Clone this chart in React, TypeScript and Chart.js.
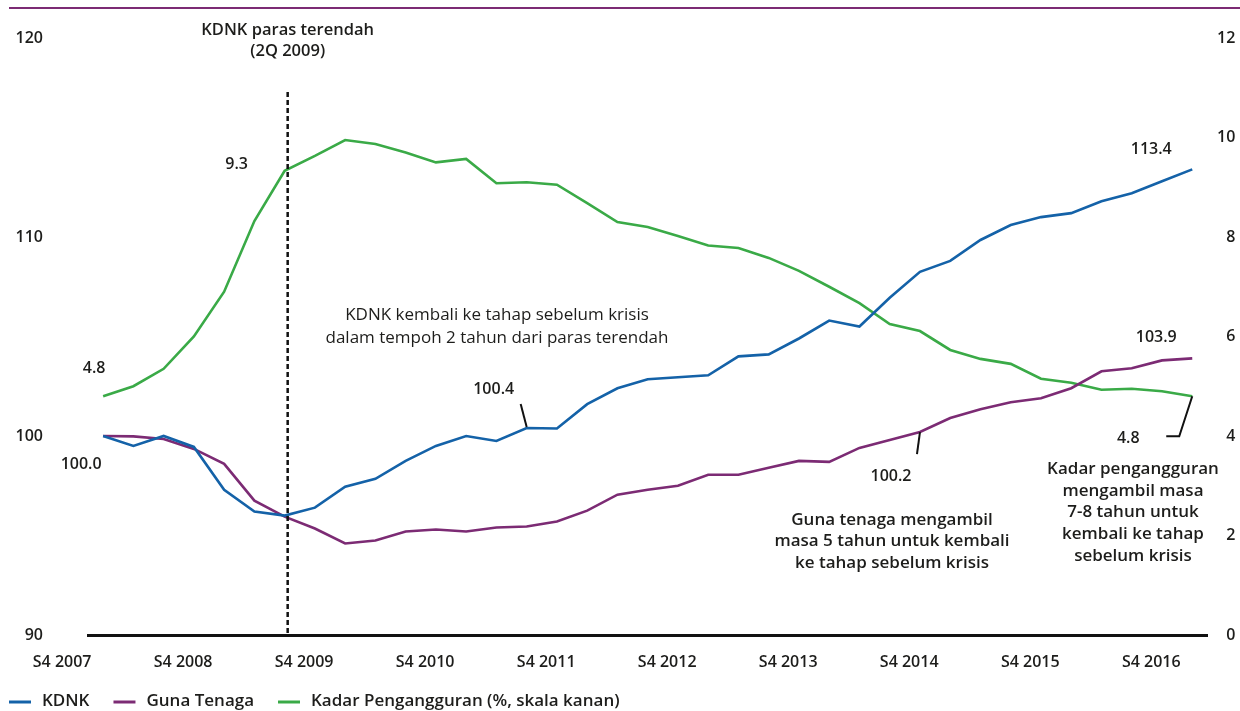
import { useEffect, useRef } from "react";
import { Chart, registerables } from "chart.js";

Chart.register(...registerables);

const quarters = [
  "S4 2007",
  "S1 2008", "S2 2008", "S3 2008", "S4 2008",
  "S1 2009", "S2 2009", "S3 2009", "S4 2009",
  "S1 2010", "S2 2010", "S3 2010", "S4 2010",
  "S1 2011", "S2 2011", "S3 2011", "S4 2011",
  "S1 2012", "S2 2012", "S3 2012", "S4 2012",
  "S1 2013", "S2 2013", "S3 2013", "S4 2013",
  "S1 2014", "S2 2014", "S3 2014", "S4 2014",
  "S1 2015", "S2 2015", "S3 2015", "S4 2015",
  "S1 2016", "S2 2016", "S3 2016", "S4 2016",
];

const kdnk = [
  100.0, 99.5, 100.0, 99.45, 97.3, 96.2, 96.0, 96.4, 97.45, 97.85,
  98.75, 99.5, 100.0, 99.75, 100.4, 100.38, 101.6, 102.4, 102.85, 102.95,
  103.05, 104.0, 104.1, 104.9, 105.8, 105.5, 106.95, 108.25, 108.8, 109.85,
  110.6, 111.0, 111.2, 111.8, 112.2, 112.8, 113.4,
];

const gunaTenaga = [
  100.0, 99.98, 99.85, 99.35, 98.6, 96.75, 95.95, 95.35, 94.6, 94.75,
  95.2, 95.3, 95.2, 95.4, 95.45, 95.7, 96.25, 97.05, 97.3, 97.5,
  98.05, 98.05, 98.4, 98.75, 98.7, 99.4, 99.8, 100.2, 100.9, 101.35,
  101.7, 101.9, 102.4, 103.25, 103.4, 103.8, 103.9,
];

const kadarPengangguran = [
  4.8, 5.0, 5.35, 6.0, 6.9, 8.32, 9.33, 9.63, 9.95, 9.87,
  9.7, 9.5, 9.57, 9.08, 9.1, 9.05, 8.68, 8.3, 8.2, 8.02,
  7.83, 7.78, 7.58, 7.32, 7.0, 6.67, 6.25, 6.11, 5.73, 5.55,
  5.45, 5.15, 5.07, 4.93, 4.95, 4.9, 4.8,
];

const seriesNames = ["KDNK", "Guna Tenaga", "Kadar Pengangguran (%, skala kanan)"];
const seriesColors = ["#1462a8", "#7c2b74", "#3aaa47"];

const leftTicks = { min: 90, max: 120, step: 10 };
const rightTicks = { min: 0, max: 12, step: 2 };

const troughIndex = 6.1; // 2Q 2009
const troughTitle = ["KDNK paras terendah", "(2Q 2009)"];
const kdnkNote = ["KDNK kembali ke tahap sebelum krisis", "dalam tempoh 2 tahun dari paras terendah"];
const gunaNote = ["Guna tenaga mengambil", "masa 5 tahun untuk kembali", "ke tahap sebelum krisis"];
const kadarNote = ["Kadar pengangguran", "mengambil masa", "7-8 tahun untuk", "kembali ke tahap", "sebelum krisis"];

const FONT = "'Open Sans', 'Noto Sans', sans-serif";
const TEXT = "#1d1d1b";

const overlayPlugin = {
  id: "overlay",
  afterDraw(chart: any) {
    const ctx = chart.ctx as CanvasRenderingContext2D;
    const xs = chart.scales.x;
    const ys = chart.scales.y;
    const y2 = chart.scales.y2;
    const area = chart.chartArea;

    const txt = (t: string, x: number, y: number, font: string, align: CanvasTextAlign = "center") => {
      ctx.font = font;
      ctx.fillStyle = TEXT;
      ctx.textAlign = align;
      ctx.textBaseline = "middle";
      ctx.fillText(t, x, y);
    };
    const line = (pts: number[][], w = 2, color = "#111") => {
      ctx.beginPath();
      ctx.strokeStyle = color;
      ctx.lineWidth = w;
      pts.forEach((p, i) => (i === 0 ? ctx.moveTo(p[0], p[1]) : ctx.lineTo(p[0], p[1])));
      ctx.stroke();
    };

    ctx.save();
    // top rule
    ctx.fillStyle = "#7c2b74";
    ctx.fillRect(9, 7, chart.width - 9, 2);

    // trough dashed line
    const tx = xs.getPixelForValue(troughIndex);
    ctx.setLineDash([5, 3]);
    line([[tx, 92], [tx, area.bottom]], 2.5, "#111");
    ctx.setLineDash([]);

    const num = `600 16px ${FONT}`;
    const title = `600 16.5px ${FONT}`;
    const bold = `600 17px ${FONT}`;
    const reg = `17px ${FONT}`;

    txt(troughTitle[0], tx, 30, title);
    txt(troughTitle[1], tx, 51, title);

    const pt = (scale: any, i: number, v: number) => [xs.getPixelForValue(i), scale.getPixelForValue(v)];

    // value labels
    const g0 = pt(y2, 0, kadarPengangguran[0]);
    txt(kadarPengangguran[0].toFixed(1), g0[0] - 9, g0[1] - 28, num);
    const g6 = pt(y2, 6, kadarPengangguran[6]);
    txt("9.3", g6[0] - 48, g6[1] - 6, num);
    const b0 = pt(ys, 0, kdnk[0]);
    txt(kdnk[0].toFixed(1), b0[0] - 22, b0[1] + 28, num);

    const b14 = pt(ys, 14, kdnk[14]);
    txt(kdnk[14].toFixed(1), b14[0] - 33, b14[1] - 39, num);
    line([[b14[0] - 6, b14[1] - 24], [b14[0], b14[1] - 1]], 2);

    const last = kdnk.length - 1;
    const bl = pt(ys, last, kdnk[last]);
    txt(kdnk[last].toFixed(1), bl[0] - 41, bl[1] - 20, num);
    const pl = pt(ys, last, gunaTenaga[last]);
    txt(gunaTenaga[last].toFixed(1), pl[0] - 36, pl[1] - 21, num);

    const p27 = pt(ys, 27, gunaTenaga[27]);
    txt(gunaTenaga[27].toFixed(1), p27[0] - 29, p27[1] + 44, num);
    line([[p27[0], p27[1]], [p27[0] - 3, p27[1] + 22]], 2);

    const gl = pt(y2, last, kadarPengangguran[last]);
    txt(kadarPengangguran[last].toFixed(1), gl[0] - 64, gl[1] + 42, num);
    line([[gl[0], gl[1]], [gl[0] - 13, gl[1] + 40], [gl[0] - 26, gl[1] + 40]], 2);

    // notes
    kdnkNote.forEach((t, i) => txt(t, 497, 315 + i * 23, reg));
    gunaNote.forEach((t, i) => txt(t, 892, 520 + i * 21.5, bold));
    kadarNote.forEach((t, i) => txt(t, 1133, 469 + i * 21.7, bold));

    // legend
    let lx = 9;
    const ly = 702;
    seriesNames.forEach((name, i) => {
      line([[lx, ly], [lx + 22, ly]], 3, seriesColors[i]);
      txt(name, lx + 33, ly - 1, bold, "left");
      ctx.font = bold;
      lx = lx + 33 + ctx.measureText(name).width + 24;
    });
    ctx.restore();
  },
};

const noVerticalPadding = (s: any) => {
  s.paddingTop = 0;
  s.paddingBottom = 0;
};

export default function App() {
  const ref = useRef<HTMLCanvasElement | null>(null);

  useEffect(() => {
    if (!ref.current) return;
    const chart = new Chart(ref.current, {
      type: "line",
      data: {
        labels: quarters,
        datasets: [
          { label: seriesNames[0], data: kdnk, yAxisID: "y", borderColor: seriesColors[0] },
          { label: seriesNames[1], data: gunaTenaga, yAxisID: "y", borderColor: seriesColors[1] },
          { label: seriesNames[2], data: kadarPengangguran, yAxisID: "y2", borderColor: seriesColors[2] },
        ].map((d) => ({ ...d, borderWidth: 2.6, pointRadius: 0, tension: 0, fill: false })),
      },
      options: {
        animation: false,
        responsive: false,
        devicePixelRatio: 1,
        layout: { padding: { top: 38, right: 2, left: 0, bottom: 0 } },
        plugins: { legend: { display: false }, tooltip: { enabled: false } },
        scales: {
          x: {
            type: "category",
            offset: true,
            grid: { display: false, drawTicks: false },
            border: { display: true, color: "#111", width: 3 },
            ticks: {
              autoSkip: false,
              maxRotation: 0,
              padding: 18,
              labelOffset: -41,
              color: TEXT,
              font: { family: FONT, size: 16, weight: "600" },
              callback: (v: any, i: number) => (i % 4 === 0 ? quarters[i] : ""),
            },
            afterFit: (s: any) => {
              s.height = 76;
            },
          },
          y: {
            position: "left",
            min: leftTicks.min,
            max: leftTicks.max,
            grid: { display: false, drawTicks: false },
            border: { display: false },
            ticks: {
              stepSize: leftTicks.step,
              padding: 45,
              crossAlign: "near",
              color: TEXT,
              font: { family: FONT, size: 16, weight: "600" },
            },
            afterFit: (s: any) => {
              s.width = 88;
              noVerticalPadding(s);
            },
          },
          y2: {
            position: "right",
            min: rightTicks.min,
            max: rightTicks.max,
            grid: { display: false, drawTicks: false },
            border: { display: false },
            ticks: {
              stepSize: rightTicks.step,
              crossAlign: "far",
              color: TEXT,
              font: { family: FONT, size: 16, weight: "600" },
            },
            afterFit: (s: any) => {
              s.width = 28;
              noVerticalPadding(s);
            },
          },
        },
      },
      plugins: [overlayPlugin],
    });
    return () => chart.destroy();
  }, []);

  return (
    <div style={{ position: "fixed", left: 0, top: 0, width: 1240, height: 711, background: "#fff" }}>
      <canvas ref={ref} width={1240} height={711} style={{ display: "block" }} />
    </div>
  );
}
